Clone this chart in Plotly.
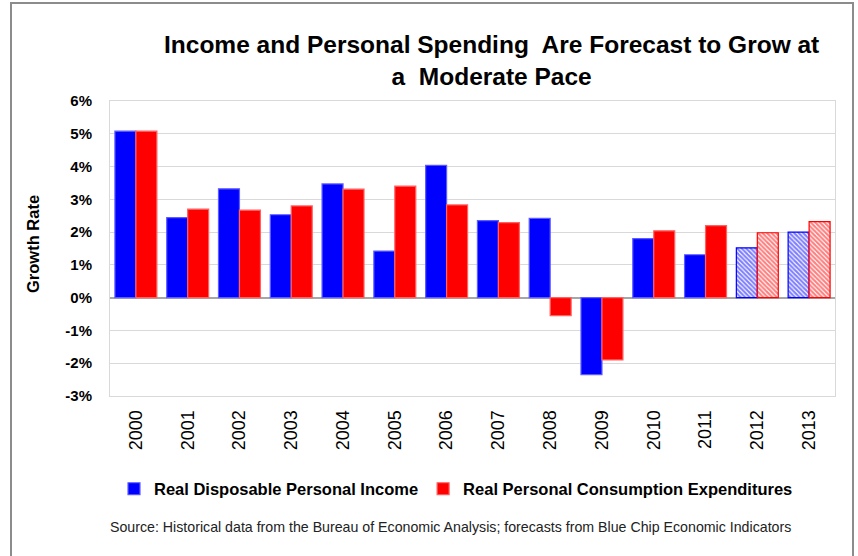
import plotly.graph_objects as go

years = ["2000", "2001", "2002", "2003", "2004", "2005", "2006",
         "2007", "2008", "2009", "2010", "2011", "2012", "2013"]
income = [5.08, 2.44, 3.32, 2.53, 3.47, 1.42, 4.04, 2.35, 2.42, -2.35, 1.80, 1.31, 1.52, 2.00]
pce = [5.08, 2.70, 2.67, 2.80, 3.31, 3.40, 2.83, 2.29, -0.55, -1.90, 2.04, 2.20, 1.98, 2.32]
forecast = [False] * 12 + [True, True]
ytick_vals = [-3, -2, -1, 0, 1, 2, 3, 4, 5, 6]
ytick_text = ["-3%", "-2%", "-1%", "0%", "1%", "2%", "3%", "4%", "5%", "6%"]

title_text = "Income and Personal Spending  Are Forecast to Grow at<br>a  Moderate Pace"
source_text = ("Source: Historical data from the Bureau of Economic Analysis; "
               "forecasts from Blue Chip Economic Indicators")

BLUE = "#0000FF"
RED = "#FF0000"
patt = ["\\" if f else "" for f in forecast]
blue_line = [BLUE if f else "#5c5cff" for f in forecast]
red_line = [RED if f else "#ff6060" for f in forecast]

fig = go.Figure()
fig.add_trace(go.Bar(
    x=years, y=income, name="Real Disposable Personal Income",
    marker=dict(color=BLUE, line=dict(color=blue_line, width=1.2),
                pattern=dict(shape=patt, fgcolor=BLUE, bgcolor="white",
                             size=3.2, solidity=0.65)),
))
fig.add_trace(go.Bar(
    x=years, y=pce, name="Real Personal Consumption Expenditures",
    marker=dict(color=RED, line=dict(color=red_line, width=1.2),
                pattern=dict(shape=patt, fgcolor=RED, bgcolor="white",
                             size=3.2, solidity=0.65)),
))

L, R, T, B = 110, 23, 101, 160
W, H = 858, 556
pw, ph = W - L - R, H - T - B

def px_x(x):
    return (x - L) / pw

def px_y(y):
    return (H - B - y) / ph

fig.update_layout(
    width=W, height=H,
    margin=dict(l=L, r=R, t=T, b=B),
    paper_bgcolor="white", plot_bgcolor="white",
    barmode="group", bargap=0.19, bargroupgap=0,
    showlegend=True,
    legend=dict(orientation="h", x=px_x(456), xanchor="center",
                y=px_y(489), yanchor="middle",
                font=dict(family="Liberation Sans, Arial",
                          size=16.5, color="black", weight="bold"),
                itemwidth=30, tracegroupgap=0),
    xaxis=dict(tickangle=-90, tickfont=dict(family="Liberation Sans, Arial", size=18, color="black"),
               showline=True, linecolor="#d9d9d9", mirror=True, showgrid=False,
               ticks="", ticklabelstandoff=6),
    yaxis=dict(range=[-3, 6], tickvals=ytick_vals, ticktext=ytick_text,
               tickfont=dict(family="Liberation Sans, Arial", size=15, color="black", weight="bold"),
               showgrid=True, gridcolor="#d9d9d9", gridwidth=1,
               zeroline=True, zerolinecolor="#a6a6a6", zerolinewidth=1.5,
               showline=True, linecolor="#d9d9d9", mirror=True, ticks="",
               ticklabelstandoff=14),
    annotations=[
        dict(text=title_text, x=px_x(491), y=px_y(61), xref="paper", yref="paper",
             xanchor="center", yanchor="middle", showarrow=False,
             font=dict(family="Liberation Sans, Arial", size=24.5, color="black", weight="bold")),
        dict(text="Growth Rate", x=px_x(33), y=px_y(244), xref="paper", yref="paper",
             xanchor="center", yanchor="middle", showarrow=False, textangle=-90,
             font=dict(family="Liberation Sans, Arial", size=16.5, color="black", weight="bold")),
        dict(text=source_text, x=px_x(450), y=px_y(527), xref="paper", yref="paper",
             xanchor="center", yanchor="middle", showarrow=False,
             font=dict(family="Liberation Sans, Arial", size=14.2, color="#222222")),
    ],
    shapes=[
        dict(type="rect", xref="paper", yref="paper",
             x0=px_x(11), x1=px_x(853), y0=px_y(600), y1=px_y(3),
             line=dict(color="#8c8c8c", width=2), fillcolor="rgba(0,0,0,0)", layer="below"),
    ],
)

fig.write_html("out.html")
